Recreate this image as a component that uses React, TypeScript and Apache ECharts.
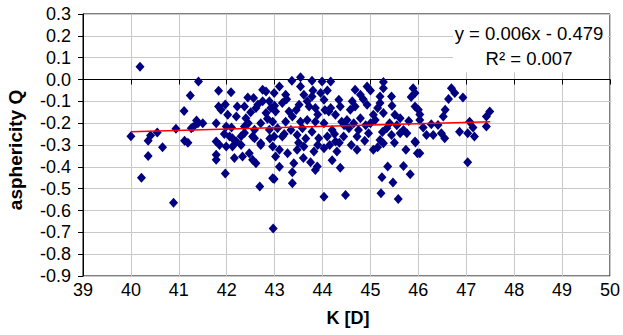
import React, { useEffect, useRef } from "react";
import * as echarts from "echarts";

// K [D] (x) and asphericity Q (y)
const kValues: number[] = [
  40.19, 40.0, 40.36, 40.41, 40.55, 40.66, 40.36, 40.22, 40.89, 40.94, 41.11, 41.24, 41.12, 41.19, 41.37, 41.3, 41.41, 41.26,
  41.83, 42.09, 41.83, 41.88, 42.02, 42.2, 42.22, 42.37, 42.44, 42.56, 42.61, 42.82, 42.75, 42.89, 41.4, 41.5, 41.78, 41.99,
  42.4, 42.37, 42.58, 42.71, 42.89, 41.78, 41.85, 41.99, 42.12, 42.2, 42.3, 42.58, 42.71, 41.78, 41.78, 42.16, 42.33, 42.47,
  42.54, 42.61, 41.97, 42.69, 42.96, 42.06, 42.37, 42.54, 42.71, 42.12, 42.82, 42.75, 41.97, 42.65,
  43.36, 43.54, 43.78, 43.99, 44.17, 43.1, 43.54, 42.99, 43.23, 43.61, 43.78, 43.96, 44.03, 44.34, 43.16, 43.51, 43.72, 43.85,
  44.17, 44.37, 43.02, 43.3, 43.37, 44.13, 44.27, 42.96, 43.23, 43.54, 43.68, 43.85, 44.03, 44.4, 43.06, 43.34, 43.58, 43.78,
  44.2, 42.99, 43.16, 43.47, 43.92, 44.1, 44.27, 44.44, 42.96, 43.1, 43.27, 43.47, 43.61, 43.82, 44.03, 44.3, 43.02, 43.4,
  43.75, 43.89, 44.37, 43.37, 42.99, 43.37, 44.03, 44.48, 42.97, 43.85, 43.25, 42.92,
  44.68, 44.93, 45.27, 45.27, 45.89, 44.79, 45.2, 45.44, 45.93, 44.68, 44.93, 45.2, 45.93, 44.58, 45.06, 45.27, 45.51, 46.0,
  44.51, 44.79, 45.1, 45.62, 44.55, 44.75, 44.96, 45.34, 45.69, 44.72, 45.2, 45.44, 45.62, 45.76, 45.93, 44.72, 45.06, 45.27,
  45.74, 45.98, 45.94, 45.36, 45.24, 45.69, 45.47, 45.83, 45.22, 45.58, 44.85, 45.0, 45.4, 44.88,
  46.69, 46.76, 46.63, 46.93, 46.56, 46.52, 46.03, 46.03, 46.27, 46.41, 46.17, 46.31, 46.48, 46.55, 46.03, 47.07, 47.14, 46.86,
  47.03, 47.17, 47.42, 47.42, 47.49, 47.03,
  43.68, 43.45, 43.9, 44.05, 43.2, 43.65, 44.25, 43.9, 43.5, 44.15, 44.45, 44.35, 43.8, 44.1, 43.0, 42.5, 42.45, 42.85, 42.3,
  42.9, 44.62, 45.0, 45.15, 45.45, 44.65, 44.9, 45.25, 45.55, 45.8, 44.6, 45.5, 45.15, 46.1, 45.85, 42.1, 41.95, 43.1, 43.6,
  44.2,
];
const qValues: number[] = [
  0.058, -0.26, -0.28, -0.257, -0.243, -0.31, -0.35, -0.45, -0.565, -0.226, -0.144, -0.073, -0.28, -0.29, -0.188, -0.218, -0.009, -0.223,
  -0.052, -0.058, -0.124, -0.139, -0.162, -0.17, -0.124, -0.124, -0.083, -0.085, -0.131, -0.055, -0.1, -0.1, -0.2, -0.2, -0.2, -0.215,
  -0.177, -0.215, -0.23, -0.2, -0.23, -0.284, -0.3, -0.307, -0.269, -0.284, -0.3, -0.269, -0.3, -0.368, -0.345, -0.36, -0.353, -0.338,
  -0.368, -0.384, -0.43, -0.49, -0.452, -0.261, -0.245, -0.261, -0.292, -0.307, -0.154, -0.047, -0.115, -0.115,
  -0.006, 0.01, -0.006, -0.009, -0.009, -0.032, -0.032, -0.062, -0.07, -0.07, -0.078, -0.062, -0.093, -0.093, -0.108, -0.116, -0.124, -0.131,
  -0.131, -0.124, -0.147, -0.147, -0.17, -0.147, -0.162, -0.193, -0.193, -0.193, -0.185, -0.193, -0.2, -0.193, -0.223, -0.231, -0.223, -0.239,
  -0.231, -0.261, -0.261, -0.254, -0.269, -0.261, -0.284, -0.261, -0.307, -0.322, -0.338, -0.322, -0.307, -0.33, -0.315, -0.33, -0.353, -0.384,
  -0.379, -0.399, -0.404, -0.425, -0.456, -0.475, -0.537, -0.529, -0.682, -0.414, -0.09, -0.13,
  -0.047, -0.032, -0.012, -0.04, -0.04, -0.07, -0.078, -0.078, -0.062, -0.124, -0.116, -0.108, -0.124, -0.139, -0.162, -0.154, -0.162, -0.139,
  -0.185, -0.177, -0.185, -0.177, -0.223, -0.231, -0.246, -0.223, -0.231, -0.261, -0.277, -0.254, -0.246, -0.246, -0.284, -0.322, -0.322, -0.292,
  -0.322, -0.338, -0.289, -0.399, -0.448, -0.396, -0.472, -0.434, -0.521, -0.547, -0.09, -0.2, -0.2, -0.28,
  -0.04, -0.062, -0.089, -0.083, -0.139, -0.17, -0.16, -0.185, -0.205, -0.208, -0.254, -0.254, -0.246, -0.269, -0.338, -0.193, -0.22, -0.239,
  -0.246, -0.261, -0.215, -0.17, -0.147, -0.379,
  -0.1, -0.14, -0.16, -0.14, -0.25, -0.27, -0.25, -0.3, -0.29, -0.3, -0.21, -0.29, -0.05, -0.05, -0.12, -0.15, -0.2, -0.18, -0.26,
  -0.27, -0.1, -0.05, -0.13, -0.12, -0.2, -0.21, -0.24, -0.21, -0.19, -0.3, -0.29, -0.31, -0.22, -0.08, -0.22, -0.25, -0.4, -0.36,
  -0.37,
];

// Linear trendline shown in the chart
const trendSlope = 0.006;
const trendIntercept = -0.479;
const trendRange: number[] = [40.0, 47.5];
const equationLines: string[] = ["y = 0.006x - 0.479", "R\u00b2 = 0.007"];

const xTitle = "K [D]";
const yTitle = "asphericity Q";

const FONT = "'Liberation Sans', Arial, sans-serif";

export default function App() {
  const ref = useRef<HTMLDivElement>(null);

  useEffect(() => {
    document.body.style.margin = "0";
    if (!ref.current) return;
    const chart = echarts.init(ref.current, null, { renderer: "svg" });

    const points = kValues.map((k, i) => [k, qValues[i]]);
    const trend = trendRange.map((x) => [x, trendSlope * x + trendIntercept]);

    chart.setOption({
      animation: false,
      backgroundColor: "#fff",
      textStyle: { fontFamily: FONT },
      grid: {
        left: 83,
        right: 10,
        top: 14,
        bottom: 59,
        show: true,
        borderColor: "#000",
        borderWidth: 1,
        backgroundColor: "transparent",
      },
      xAxis: [
        {
          type: "value",
          min: 39,
          max: 50,
          interval: 1,
          position: "bottom",
          axisLine: { show: false, onZero: false },
          axisTick: { show: false },
          axisLabel: { show: true, color: "#000", fontSize: 18, fontFamily: FONT, margin: 5 },
          splitLine: { show: true, lineStyle: { color: "#c8c8c8", width: 1 } },
        },
        {
          type: "value",
          min: 39,
          max: 50,
          interval: 1,
          position: "top",
          axisLine: { show: true, onZero: true, lineStyle: { color: "#000", width: 1 } },
          axisTick: { show: true, inside: true, length: 5, lineStyle: { color: "#000" } },
          axisLabel: { show: false },
          splitLine: { show: false },
        },
      ],
      yAxis: {
        type: "value",
        min: -0.9,
        max: 0.3,
        interval: 0.1,
        axisLine: { show: true, onZero: false, lineStyle: { color: "#000", width: 1 } },
        axisTick: { show: true, inside: false, length: 5, lineStyle: { color: "#000" } },
        axisLabel: {
          color: "#000",
          fontSize: 18,
          fontFamily: FONT,
          margin: 12,
          formatter: (v: number) => (Math.abs(v) < 1e-9 ? "0.0" : v.toFixed(1)),
        },
        splitLine: { show: true, lineStyle: { color: "#c8c8c8", width: 1 } },
      },
      series: [
        {
          type: "scatter",
          xAxisIndex: 0,
          data: points,
          symbol: "diamond",
          symbolSize: [9, 10],
          itemStyle: { color: "#000080", opacity: 1 },
          z: 3,
        },
        {
          type: "line",
          xAxisIndex: 0,
          data: trend,
          symbol: "none",
          lineStyle: { color: "#ff0000", width: 1.5 },
          z: 4,
        },
      ],
      graphic: [
        {
          type: "rect",
          shape: { x: 453, y: 15, width: 155, height: 57 },
          style: { fill: "#fff" },
          z: 10,
        },
        {
          type: "text",
          x: 529,
          y: 33,
          style: {
            text: equationLines[0],
            fontSize: 18.5,
            fontFamily: FONT,
            fill: "#000",
            textAlign: "center",
            textVerticalAlign: "middle",
          },
          z: 11,
        },
        {
          type: "text",
          x: 529,
          y: 58,
          style: {
            text: equationLines[1],
            fontSize: 18.5,
            fontFamily: FONT,
            fill: "#000",
            textAlign: "center",
            textVerticalAlign: "middle",
          },
          z: 11,
        },
        {
          type: "text",
          x: 348,
          y: 318,
          style: {
            text: xTitle,
            fontSize: 18,
            fontWeight: "bold",
            fontFamily: FONT,
            fill: "#000",
            textAlign: "center",
            textVerticalAlign: "middle",
          },
        },
        {
          type: "text",
          x: 15,
          y: 150,
          rotation: Math.PI / 2,
          style: {
            text: yTitle,
            fontSize: 19,
            fontWeight: "bold",
            fontFamily: FONT,
            fill: "#000",
            textAlign: "center",
            textVerticalAlign: "middle",
          },
        },
      ],
    });

    return () => chart.dispose();
  }, []);

  return <div ref={ref} style={{ width: 623, height: 335 }} />;
}
